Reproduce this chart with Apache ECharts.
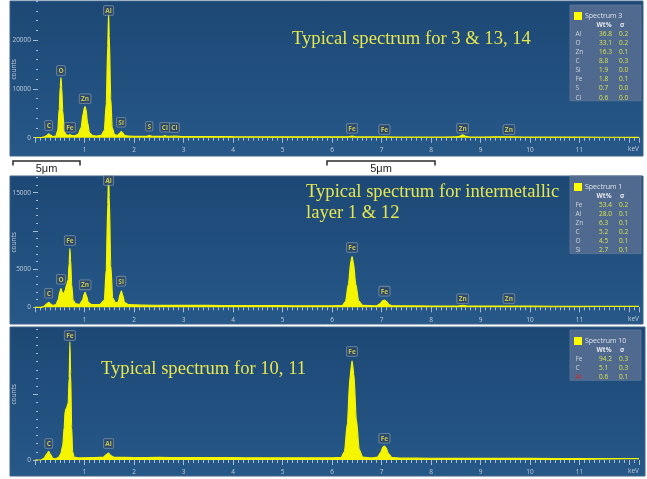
<!DOCTYPE html>
<html><head><meta charset="utf-8">
<script src="https://cdn.jsdelivr.net/npm/echarts@6/dist/echarts.min.js"></script>
<style>html,body{margin:0;padding:0;background:#fff}#c{width:647px;height:479px}</style>
</head><body><div id="c"></div>
<script>
// ---------- DATA ----------
const xTickLabels = [1,2,3,4,5,6,7,8,9,10,11];
const keVMax = 12.2;

// Spectrum 3 (top panel) [keV, counts]
const spectrum3 = [[0,0],[0.12,0],[0.18,150],[0.24,450],[0.277,780],[0.31,520],[0.36,250],[0.42,350],[0.46,1500],[0.49,6000],[0.51,10500],[0.525,12300],[0.54,10200],[0.56,5500],[0.59,1500],[0.63,600],[0.68,500],[0.705,650],[0.74,450],[0.80,400],[0.87,700],[0.93,2000],[0.97,4800],[1.00,6200],[1.012,6350],[1.03,5800],[1.06,3200],[1.10,1000],[1.16,450],[1.25,350],[1.34,500],[1.40,1500],[1.44,7000],[1.47,19000],[1.486,25500],[1.50,21000],[1.53,8000],[1.56,2000],[1.61,600],[1.67,500],[1.71,900],[1.74,1250],[1.77,1000],[1.81,450],[1.9,320],[2.1,280],[2.25,270],[2.307,450],[2.36,280],[2.5,260],[2.58,280],[2.622,420],[2.67,270],[2.815,320],[3.0,240],[3.5,220],[4.0,200],[4.5,190],[5.0,180],[5.5,170],[6.0,160],[6.3,170],[6.404,330],[6.5,160],[7.0,150],[7.058,200],[7.1,150],[7.5,140],[8.0,140],[8.5,150],[8.58,300],[8.638,600],[8.7,300],[8.78,140],[9.0,130],[9.572,170],[10.0,120],[11.0,100],[12.2,80]];
// Spectrum 1 (middle panel)
const spectrum1 = [[0,0],[0.12,0],[0.18,120],[0.24,450],[0.277,650],[0.31,450],[0.36,250],[0.42,350],[0.47,1000],[0.50,2000],[0.525,2450],[0.55,2000],[0.58,1700],[0.61,2300],[0.64,3000],[0.67,3600],[0.69,5800],[0.705,7700],[0.72,6200],[0.74,3000],[0.77,900],[0.82,450],[0.90,400],[0.96,900],[0.99,1700],[1.012,1950],[1.04,1500],[1.08,600],[1.15,350],[1.30,350],[1.40,900],[1.44,5000],[1.47,13500],[1.486,17500],[1.50,14500],[1.53,5500],[1.57,1200],[1.63,550],[1.68,700],[1.72,1700],[1.745,2150],[1.77,1600],[1.81,600],[1.9,350],[2.2,280],[2.6,260],[3.0,250],[3.5,240],[4.0,230],[4.5,220],[5.0,210],[5.5,200],[6.0,200],[6.2,230],[6.27,700],[6.33,3000],[6.38,6000],[6.404,6650],[6.43,5900],[6.48,3000],[6.54,800],[6.62,250],[6.9,200],[6.97,450],[7.02,850],[7.058,950],[7.10,750],[7.15,350],[7.22,190],[7.5,180],[8.0,170],[8.55,170],[8.638,260],[8.72,170],[9.0,160],[10.0,150],[11.0,130],[12.2,110]];
// Spectrum 10 (bottom panel)
const spectrum10 = [[0,0],[0.12,0],[0.18,400],[0.24,1500],[0.277,2100],[0.31,1400],[0.36,400],[0.42,300],[0.48,700],[0.52,1500],[0.56,3500],[0.59,8000],[0.61,12000],[0.64,12800],[0.67,13800],[0.69,20000],[0.705,28800],[0.72,21000],[0.74,8000],[0.76,2000],[0.79,700],[0.9,500],[1.0,550],[1.2,600],[1.38,650],[1.44,1300],[1.486,1700],[1.53,1100],[1.60,650],[2.0,600],[2.5,620],[3.0,600],[3.5,580],[4.0,560],[4.5,540],[5.0,520],[5.5,500],[6.0,520],[6.18,600],[6.25,2000],[6.31,9000],[6.36,20000],[6.404,24200],[6.44,21000],[6.49,10000],[6.55,2500],[6.62,700],[6.8,500],[6.92,700],[6.98,1800],[7.03,3200],[7.058,3400],[7.09,3000],[7.14,1500],[7.21,600],[7.4,450],[8.0,430],[9.0,400],[10.0,380],[11.0,350],[12.2,320]];

// Peak markers [element, keV, label anchor counts]
const peaks3 = [['C',0.277,1170],['O',0.525,12440],['Fe',0.705,820],['Zn',1.012,6640],['Al',1.486,24730],['Si',1.74,1840],['S',2.307,1020],['Cl',2.622,820],['Cl',2.815,700],['Fe',6.404,615],['Fe',7.058,350],['Zn',8.638,615],['Zn',9.572,350]];
const peaks1 = [['C',0.277,995],['O',0.525,2830],['Fe',0.705,7890],['Zn',1.012,2090],['Al',1.486,15750],['Si',1.74,2570],['Fe',6.404,6980],['Fe',7.058,1260],['Zn',8.638,260],['Zn',9.572,300]];
const peaks10 = [['C',0.277,2440],['Fe',0.705,28780],['Al',1.486,2440],['Fe',6.404,24880],['Fe',7.058,3730]];

// Quant tables
const table3Name = 'Spectrum 3';
const table3Elem = ['Al','O','Zn','C','Si','Fe','S','Cl'];
const table3Wt = [36.8,33.1,16.3,8.8,1.9,1.8,0.7,0.6];
const table3Sig = [0.2,0.2,0.1,0.3,0.0,0.1,0.0,0.0];
const table1Name = 'Spectrum 1';
const table1Elem = ['Fe','Al','Zn','C','O','Si'];
const table1Wt = [53.4,28.0,6.3,5.2,4.5,2.7];
const table1Sig = [0.2,0.1,0.1,0.2,0.1,0.1];
const table10Name = 'Spectrum 10';
const table10Elem = ['Fe','C','Al'];
const table10Wt = [94.2,5.1,0.6];
const table10Sig = [0.3,0.3,0.1];

const yLabels3 = [0,10000,20000];
const yLabels1 = [0,5000,15000];
const yLabels10 = [0];

const captions = [
  {lines:['Typical spectrum for 3 & 13, 14'], x:292, y:39},
  {lines:['Typical spectrum for intermetallic','layer 1 & 12'], x:306, y:192},
  {lines:['Typical spectrum for 10, 11'], x:101, y:369}
];

// ---------- CHART ----------
const YEL = '#f5f500';
const TICK = '#a9bbcf';
const LAB = '#bfcad8';
const FONT = '"Open Sans", "Noto Sans", sans-serif';

const panels = [
  {bg:[10,1,633,155], top:1.1, height:136.6, max:28000, major:10000, minor:2000, labels:yLabels3, data:spectrum3, peaks:peaks3,
   table:{y:5, name:table3Name, elem:table3Elem, wt:table3Wt, sig:table3Sig}},
  {bg:[10,176,633,148], top:177.4, height:129.9, max:17000, major:5000, minor:1000, labels:yLabels1, data:spectrum1, peaks:peaks1,
   table:{y:176, name:table1Name, elem:table1Elem, wt:table1Wt, sig:table1Sig}},
  {bg:[10,327,635,149], top:328.8, height:131.2, max:32000, major:16000, minor:2000, labels:yLabels10, data:spectrum10, peaks:peaks10,
   table:{y:330, name:table10Name, elem:table10Elem, wt:table10Wt, sig:table10Sig, red:[2]}}
];

const grid = [], xAxis = [], yAxis = [], series = [], graphic = [];

panels.forEach((p, i) => {
  grid.push({left:35, width:604, top:p.top, height:p.height, containLabel:false, outerBoundsMode:'none'});
  // major x
  xAxis.push({type:'value', gridIndex:i, position:'bottom', min:0, max:keVMax, interval:1,
    axisLine:{show:false, onZero:false}, splitLine:{show:false},
    axisTick:{show:true, length:5, lineStyle:{color:TICK, width:1}},
    axisLabel:{show:true, margin:9, fontSize:6.5, color:LAB, fontFamily:FONT,
      formatter: v => xTickLabels.includes(Math.round(v*100)/100) ? String(v) : ''},
    name:'keV', nameLocation:'end', nameGap:0, nameMoveOverlap:false,
    nameTextStyle:{align:'right', verticalAlign:'top', padding:[8,0,0,0], fontSize:6.5, color:LAB, fontFamily:FONT}});
  // minor x
  xAxis.push({type:'value', gridIndex:i, position:'bottom', min:0, max:keVMax, interval:0.1,
    axisLine:{show:false, onZero:false}, splitLine:{show:false},
    axisTick:{show:true, length:3, lineStyle:{color:TICK, width:1}}, axisLabel:{show:false}});
  // major y
  yAxis.push({type:'value', gridIndex:i, position:'left', offset:-3, min:0, max:p.max, interval:p.major,
    axisLine:{show:false}, splitLine:{show:false},
    axisTick:{show:true, length:5, lineStyle:{color:TICK, width:1}},
    axisLabel:{show:true, margin:7, fontSize:6.5, color:LAB, fontFamily:FONT, showMaxLabel:false,
      formatter: v => p.labels.includes(v) ? String(v) : ''},
    name:'counts', nameLocation:'middle', nameGap:20, nameRotate:90, nameMoveOverlap:false,
    nameTextStyle:{fontSize:6.5, color:LAB, fontFamily:FONT}});
  // minor y
  yAxis.push({type:'value', gridIndex:i, position:'left', offset:-3, min:0, max:p.max, interval:p.minor,
    axisLine:{show:false}, splitLine:{show:false},
    axisTick:{show:true, length:2, lineStyle:{color:TICK, width:1.2}}, axisLabel:{show:false}});

  series.push({type:'line', xAxisIndex:2*i, yAxisIndex:2*i, data:p.data, showSymbol:false,
    smooth:0.25, smoothMonotone:'x', lineStyle:{color:YEL, width:1.2}, areaStyle:{color:YEL, opacity:1},
    silent:true, z:3});
  series.push({type:'scatter', xAxisIndex:2*i, yAxisIndex:2*i, symbolSize:0, silent:true, z:5,
    data:p.peaks.map(d => [d[1], d[2], d[0]]),
    label:{show:true, position:'top', distance:2, formatter: q => q.data[2],
      fontSize:6.5, fontFamily:FONT, fontWeight:'bold', color:'#e9e25a',
      backgroundColor:'rgba(44,66,92,0.9)', borderColor:'#8197b0', borderWidth:0.8, borderRadius:1,
      padding:[1.5,1.5,0.5,1.5]}});

  // panel background
  graphic.push({type:'rect', z:-10, silent:true,
    shape:{x:p.bg[0], y:p.bg[1], width:p.bg[2], height:p.bg[3]},
    style:{fill:new echarts.graphic.LinearGradient(0,0,0,1,[{offset:0,color:'#1d4875'},{offset:1,color:'#265888'}]),
      stroke:'#3d6289', lineWidth:1}});

  // quant table
  const t = p.table;
  const rows = t.elem.length;
  const bh = 20 + rows*9.1 + 3;
  graphic.push({type:'rect', z:50, silent:true, shape:{x:570, y:t.y, width:71, height:bh},
    style:{fill:'#4f6a8e', stroke:'#5f7a9c', lineWidth:0.8}});
  graphic.push({type:'rect', z:51, silent:true, shape:{x:574, y:t.y+7, width:8, height:8}, style:{fill:'#ffff00'}});
  graphic.push({type:'text', z:51, silent:true, x:585, y:t.y+11,
    style:{text:t.name, fill:'#dde3ea', fontSize:7, fontFamily:FONT, verticalAlign:'middle'}});
  graphic.push({type:'text', z:51, silent:true, x:604, y:t.y+20.5,
    style:{text:'Wt%', fill:'#e4e8ee', fontSize:6.5, fontWeight:'bold', fontFamily:FONT, align:'center', verticalAlign:'middle'}});
  graphic.push({type:'text', z:51, silent:true, x:622, y:t.y+20.5,
    style:{text:'σ', fill:'#e4e8ee', fontSize:6.5, fontWeight:'bold', fontFamily:FONT, align:'center', verticalAlign:'middle'}});
  t.elem.forEach((e, k) => {
    const yy = t.y + 29 + k*9.1;
    const red = t.red && t.red.includes(k);
    graphic.push({type:'text', z:51, silent:true, x:575.5, y:yy,
      style:{text:e, fill: red ? '#e02020' : '#cfd6df', fontSize:6.5, fontFamily:FONT, verticalAlign:'middle'}});
    graphic.push({type:'text', z:51, silent:true, x:599, y:yy,
      style:{text:t.wt[k].toFixed(1), fill:'#d9e04c', fontSize:6.5, fontFamily:FONT, verticalAlign:'middle'}});
    graphic.push({type:'text', z:51, silent:true, x:619, y:yy,
      style:{text:t.sig[k].toFixed(1), fill:'#d9e04c', fontSize:6.5, fontFamily:FONT, verticalAlign:'middle'}});
  });
});

// captions
captions.forEach(c => {
  c.lines.forEach((ln, k) => {
    graphic.push({type:'text', z:60, silent:true, x:c.x, y:c.y + k*21,
      style:{text:ln, fill:'#e6e64e', fontSize:18.6, fontFamily:'"Liberation Serif", "DejaVu Serif", serif', verticalAlign:'middle'}});
  });
});

// scale bars
[[13,80],[327,435]].forEach(b => {
  graphic.push({type:'polyline', z:60, silent:true,
    shape:{points:[[b[0],165.5],[b[0],161],[b[1],161],[b[1],165.5]]},
    style:{stroke:'#2a2a2a', lineWidth:1.5, fill:null}});
  graphic.push({type:'text', z:60, silent:true, x:(b[0]+b[1])/2, y:169,
    style:{text:'5μm', fill:'#222', fontSize:11, fontFamily:'"Liberation Sans", sans-serif', align:'center', verticalAlign:'middle'}});
});

const chart = echarts.init(document.getElementById('c'), null, {renderer:'canvas'});
chart.setOption({backgroundColor:'#ffffff', animation:false, grid, xAxis, yAxis, series, graphic});
</script>
</body></html>
